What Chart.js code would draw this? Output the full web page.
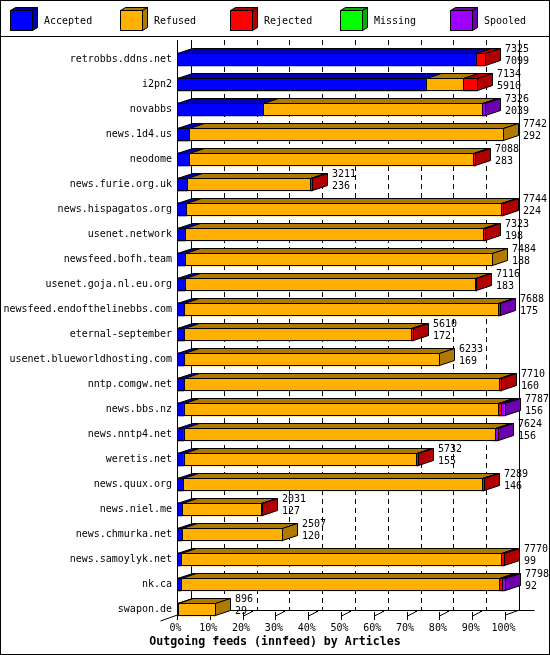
<!DOCTYPE html>
<html><head><meta charset="utf-8">
<script src="https://cdn.jsdelivr.net/npm/chart.js@4"></script>
<style>
html,body{margin:0;padding:0;background:#fff;}
#wrap{position:relative;width:550px;height:655px;overflow:hidden;background:#fff;}
#c{position:absolute;left:0;top:0;}
#frame{position:absolute;left:0;top:0;width:550px;height:655px;box-sizing:border-box;border:1px solid #000;pointer-events:none;}
#sep{position:absolute;left:0;top:36px;width:550px;height:1px;background:#000;}
.item{position:absolute;top:7px;height:26px;}
.item svg{position:absolute;left:0;top:0;}
.item span{position:absolute;left:34px;top:8px;font:10px "DejaVu Sans Mono",monospace;line-height:12px;color:#000;white-space:nowrap;}
</style>
</head><body>
<div id="wrap">
<canvas id="c" width="550" height="655"></canvas>
<div id="legend"></div>
<div id="sep"></div>
<div id="frame"></div>
</div>
<script>
// ---- data ----
const hosts = ["retrobbs.ddns.net","i2pn2","novabbs","news.1d4.us","neodome","news.furie.org.uk","news.hispagatos.org","usenet.network","newsfeed.bofh.team","usenet.goja.nl.eu.org","newsfeed.endofthelinebbs.com","eternal-september","usenet.blueworldhosting.com","nntp.comgw.net","news.bbs.nz","news.nntp4.net","weretis.net","news.quux.org","news.niel.me","news.chmurka.net","news.samoylyk.net","nk.ca","swapon.de"];
const offered  = [7325,7134,7326,7742,7088,3211,7744,7323,7484,7116,7688,5610,6233,7710,7787,7624,5732,7289,2031,2507,7770,7798,896];
const accepted = [7099,5910,2039,292,283,236,224,198,188,183,175,172,169,160,156,156,155,146,127,120,99,92,29];
const refused  = [0,885,5217,7450,6762,2930,7473,7085,7296,6893,7463,5398,6064,7503,7466,7398,5522,7098,1879,2387,7611,7573,867];
const rejected = [226,339,0,0,43,45,47,40,0,40,0,40,0,47,85,0,55,45,25,0,60,70,0];
const missing  = [0,0,0,0,0,0,0,0,0,0,0,0,0,0,0,0,0,0,0,0,0,0,0];
const spooled  = [0,0,70,0,0,0,0,0,0,0,50,0,0,0,80,70,0,0,0,0,0,63,0];
const seriesNames = ["Accepted","Refused","Rejected","Missing","Spooled"];
const seriesColors = ["#0000FF","#FFB000","#FF0000","#00FF00","#A000FF"];
const xTicks = [0,10,20,30,40,50,60,70,80,90,100];
const titleText = "Outgoing feeds (innfeed) by Articles";

const seriesValues = [accepted, refused, rejected, missing, spooled];
const maxOffered = Math.max(...offered);
const pct = v => v / maxOffered * 100;

function shade(hex, f){
  f = f || 0.69;
  const n = parseInt(hex.slice(1),16);
  const r = Math.round(((n>>16)&255)*f), g = Math.round(((n>>8)&255)*f), b = Math.round((n&255)*f);
  return `rgb(${r},${g},${b})`;
}

// ---- legend (HTML) ----
const leg = document.getElementById('legend');
seriesNames.forEach((name,i)=>{
  const d = document.createElement('div');
  d.className='item'; d.style.left = (10 + 110*i) + 'px';
  const c = seriesColors[i], s = shade(c);
  d.innerHTML = `<svg width="30" height="26" viewBox="0 0 30 26">
    <polygon points="0.5,3.5 5.5,0.5 27.5,0.5 22.5,3.5" fill="${s}" stroke="#000" stroke-width="1"/>
    <polygon points="22.5,3.5 27.5,0.5 27.5,20.5 22.5,23.5" fill="${s}" stroke="#000" stroke-width="1"/>
    <rect x="0.5" y="3.5" width="22" height="20" fill="${c}" stroke="#000" stroke-width="1"/>
  </svg><span>${name}</span>`;
  leg.appendChild(d);
});

const FONT = '"DejaVu Sans Mono", monospace';
const DX = 15, DY = 5, GDX = 14;

const backPlugin = {
  id:'back',
  beforeDatasetsDraw(chart){
    const ctx = chart.ctx, xs = chart.scales.x;
    const yTop = 40, yBack = 610, yFront = 615;
    ctx.save();
    ctx.strokeStyle = '#000'; ctx.lineWidth = 1;
    xTicks.forEach(v=>{
      const xb = Math.round(xs.getPixelForValue(v)) + GDX + 0.5;
      ctx.setLineDash(v===0 || v===100 ? [] : [5,4]);
      ctx.beginPath(); ctx.moveTo(xb, yTop); ctx.lineTo(xb, yBack); ctx.stroke();
    });
    ctx.setLineDash([]);
    const x0 = Math.round(xs.getPixelForValue(0)) + 0.5;
    const x100 = Math.round(xs.getPixelForValue(100)) + 0.5;
    ctx.beginPath(); ctx.moveTo(x0, yTop); ctx.lineTo(x0, yFront); ctx.stroke();
    ctx.beginPath(); ctx.moveTo(x0+GDX, yBack+0.5); ctx.lineTo(x100+GDX+15, yBack+0.5); ctx.stroke();
    ctx.beginPath(); ctx.moveTo(x0+GDX, yBack); ctx.lineTo(x0-17, yFront+6); ctx.stroke();
    ctx.beginPath(); ctx.moveTo(x100, yFront); ctx.lineTo(x100+GDX, yBack); ctx.stroke();
    xTicks.forEach(v=>{
      const x = Math.round(xs.getPixelForValue(v)) + 0.5;
      ctx.beginPath(); ctx.moveTo(x, 612); ctx.lineTo(x, 620); ctx.stroke();
      if (v>0 && v<100){
        ctx.beginPath(); ctx.moveTo(x, 616); ctx.lineTo(x+8, 612); ctx.stroke();
        ctx.fillStyle='#000'; ctx.fillRect(x+7.5, 610, 2, 2);
      }
    });
    ctx.restore();
  }
};

const bar3d = {
  id:'bar3d',
  afterDatasetsDraw(chart){
    const ctx = chart.ctx;
    const n = chart.data.labels.length;
    ctx.save();
    ctx.lineWidth = 1; ctx.strokeStyle = '#000';
    for (let i=0;i<n;i++){
      let last = null, cy = null;
      chart.data.datasets.forEach((ds,di)=>{
        const el = chart.getDatasetMeta(di).data[i];
        if (!el || !(ds.data[i] > 0)) return;
        const p = el.getProps(['x','y','base','height'], true);
        const x1 = Math.round(Math.min(p.base,p.x)) + 0.5;
        const x2 = Math.round(Math.max(p.base,p.x)) + 0.5;
        const top = Math.round(p.y - p.height/2) + 0.5;
        const h = Math.round(p.height) - 1;
        cy = p.y;
        ctx.fillStyle = shade(ds.backgroundColor);
        ctx.beginPath();
        ctx.moveTo(x1, top); ctx.lineTo(x1+DX, top-DY); ctx.lineTo(x2+DX, top-DY); ctx.lineTo(x2, top); ctx.closePath();
        ctx.fill(); ctx.stroke();
        ctx.strokeRect(x1, top, x2-x1, h);
        last = {x2, top, h, color: ds.backgroundColor};
      });
      if (last){
        const {x2, top, h, color} = last;
        ctx.fillStyle = shade(color);
        ctx.beginPath();
        ctx.moveTo(x2, top); ctx.lineTo(x2+DX, top-DY); ctx.lineTo(x2+DX, top-DY+h); ctx.lineTo(x2, top+h); ctx.closePath();
        ctx.fill(); ctx.stroke();
        ctx.fillStyle = '#000';
        ctx.font = '10px ' + FONT;
        ctx.textAlign = 'left'; ctx.textBaseline = 'middle';
        const tx = Math.round(x2) + DX + 4;
        ctx.fillText(String(offered[i]), tx, cy - 10);
        ctx.fillText(String(accepted[i]), tx, cy + 2);
      }
    }
    ctx.restore();
  }
};

const datasets = seriesNames.map((name,i)=>({
  label: name,
  data: seriesValues[i].map(pct),
  backgroundColor: seriesColors[i],
  borderWidth: 0,
  barThickness: 13,
  stack: 's'
}));

new Chart(document.getElementById('c'), {
  type: 'bar',
  data: { labels: hosts, datasets },
  options: {
    indexAxis: 'y',
    responsive: false,
    animation: false,
    devicePixelRatio: 1,
    layout: { padding: { top: 47, left: 0, right: 0, bottom: 0 } },
    plugins: {
      legend: { display: false },
      tooltip: { enabled: false },
      title: {
        display: true, position: 'bottom', text: titleText, color: '#000',
        font: { family: FONT, size: 11.6, weight: 'bold', lineHeight: 1 },
        padding: { top: 0, bottom: 7.7 }
      }
    },
    scales: {
      x: {
        stacked: true, min: 0, max: 100,
        grid: { display: false, drawTicks: false, tickLength: 0 }, border: { display: false },
        afterBuildTicks(s){ s.ticks = xTicks.map(v=>({value:v})); },
        ticks: { callback: v => v + '%', color: '#000', font: { family: FONT, size: 10 }, padding: 0, maxRotation: 0, autoSkip: false, labelOffset: -1.5 },
        afterFit(s){ s.height = 13.7; }
      },
      y: {
        stacked: true,
        grid: { display: false, drawTicks: false, tickLength: 0 }, border: { display: false },
        ticks: { color: '#000', font: { family: FONT, size: 10 }, padding: 5, autoSkip: false },
        afterFit(s){ s.width = 177; }
      },
      yR: {
        type: 'category', position: 'right',
        grid: { display: false, drawTicks: false, tickLength: 0 }, border: { display: false },
        ticks: { display: false },
        afterFit(s){ s.width = 45; }
      }
    }
  },
  plugins: [backPlugin, bar3d]
});
</script>
</body></html>
